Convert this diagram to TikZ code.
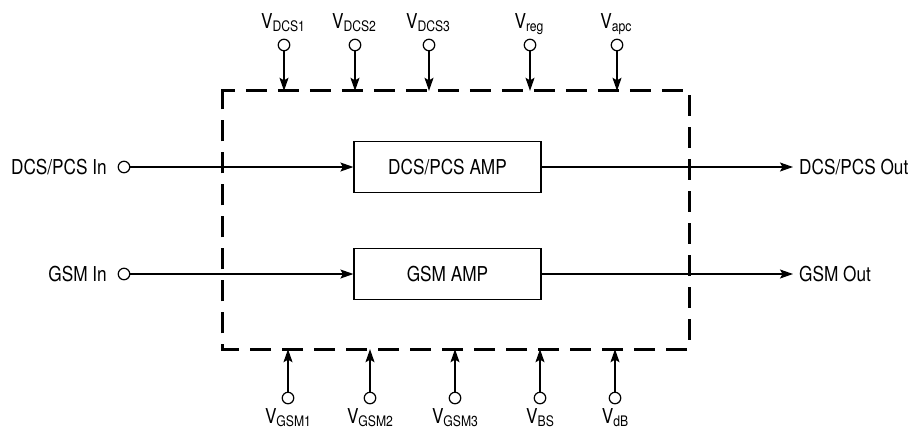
\documentclass[tikz,border=0pt]{standalone}
\usepackage{fontspec}
\setmainfont{TeX Gyre Heros}[FakeStretch=0.84]
\usetikzlibrary{arrows.meta}
\newcommand{\mysub}[1]{\raisebox{-3.5pt}{\fontsize{14.5}{14}\selectfont #1}}
\begin{document}
\begin{tikzpicture}[x=1pt,y=-1pt,
  every node/.style={font=\fontsize{20.5}{24}\selectfont},
  pin/.style={circle,draw,line width=1.2pt,minimum size=11.5pt,inner sep=0pt},
  ampbox/.style={draw,line width=1.2pt,minimum width=187pt,minimum height=51pt,inner sep=0pt},
  sig/.style={line width=1.3pt,-{Stealth[length=13pt,width=9pt,inset=2.5pt]}},
  frameline/.style={line width=3pt,dash pattern=on 21pt off 11pt},
  vlabel/.style={inner sep=0pt,anchor=base}]
\useasboundingbox (0,0) rectangle (912,432);
% frame
\node[draw=none,minimum width=466pt,minimum height=258pt,inner sep=0pt] (frame) at (456,220) {};
\draw[frameline] ([yshift=-9pt]frame.north west) -- (frame.north west) -- (frame.north east)
  -- (frame.south east) -- (frame.south west) -- cycle;
% amplifiers
\node[ampbox] (amp1) at (447.5,167) {DCS/PCS AMP};
\node[ampbox] (amp2) at (447.5,274) {GSM AMP};
% inputs
\node[pin] (in1) at (124,167) {};
\node[pin] (in2) at (124,274) {};
\node[inner sep=0pt,anchor=base east] (in1l) at (107,174) {DCS/PCS In};
\node[inner sep=0pt,anchor=base east] (in2l) at (107,281) {GSM In};
\draw[sig] (in1) -- (amp1.west);
\draw[sig] (in2) -- (amp2.west);
% outputs
\coordinate (out1) at (793,167);
\coordinate (out2) at (793,274);
\draw[sig] (amp1.east) -- (out1);
\draw[sig] (amp2.east) -- (out2);
\node[inner sep=0pt,anchor=base west] (out1l) at (799,174) {DCS/PCS Out};
\node[inner sep=0pt,anchor=base west] (out2l) at (799,281) {GSM Out};
% top pins
\foreach \n/\x/\s in {t1/284/DCS1,t2/355/DCS2,t3/429/DCS3,t4/530/reg,t5/617/apc}{
  \node[pin] (\n) at (\x,45) {};
  \node[vlabel] (\n l) at (\x-1,28) {V\mysub{\s}};
  \draw[sig] (\n) -- (\n |- frame.north);
}
% bottom pins
\foreach \n/\x/\s in {b1/288/GSM1,b2/370/GSM2,b3/455/GSM3,b4/540/BS,b5/615/dB}{
  \node[pin] (\n) at (\x,398) {};
  \node[vlabel] (\n l) at (\x,423) {V\mysub{\s}};
  \draw[sig] (\n) -- (\n |- frame.south);
}
\end{tikzpicture}
\end{document}
